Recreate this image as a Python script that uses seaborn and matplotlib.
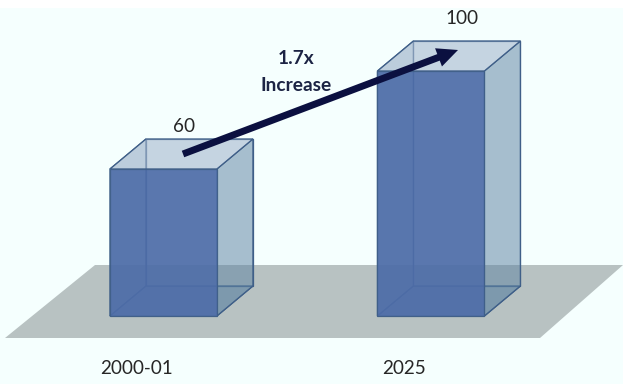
import matplotlib
matplotlib.use("Agg")
import matplotlib.pyplot as plt
from matplotlib.colors import to_rgba
from matplotlib.patches import Polygon, Rectangle
from matplotlib.transforms import Affine2D, IdentityTransform
import pandas as pd
import seaborn as sns

periods = ["2000-01", "2025"]
values = [60, 100]
growth_label = "1.7x\nIncrease"

BACKGROUND = "#f5fffe"
FLOOR = "#b8c2c2"
FRONT = "#4e6da8"
SIDE = "#5f84a3"
TOP = "#a8bad0"
EDGE = "#3f5f88"
NAVY = "#0b1040"
TEXT = "#262626"

sns.set_theme(style="white")
plt.rcParams["font.family"] = ["Lato", "DejaVu Sans"]

W, H = 623, 384
fig = plt.figure(figsize=(W / 100, H / 100), dpi=100, facecolor="white")
ax = fig.add_axes([0, 0, 1, 1])

# Canvas coordinates in pixels from the top left, for the scenery around the bars
canvas = Affine2D().scale(1 / W, -1 / H).translate(0, 1) + ax.transAxes

ax.add_patch(Rectangle((0, 8), W, H - 8, transform=canvas, fc=BACKGROUND, ec="none", zorder=0))
ax.add_patch(Polygon([(95, 265), (623, 265), (540, 338), (5, 338)], transform=canvas,
                     fc=FLOOR, ec="none", zorder=1))

frame = pd.DataFrame({"period": periods, "value": values})
sns.barplot(data=frame, x="period", y="value", ax=ax, width=0.4, color=FRONT, saturation=1,
            alpha=0.93, edgecolor=EDGE, linewidth=0.9, zorder=5)

ax.set_xlim(-0.611, 1.718)
ax.set_ylim(-27.76, 128.98)
ax.axis("off")

# Extrude each bar into a box with a fixed screen shift up and to the right
DEPTH_X, DEPTH_Y = 36, 30


def back(p):
    return (p[0] + DEPTH_X, p[1] + DEPTH_Y)


for bar, value in zip(ax.containers[0], values):
    x0, x1 = bar.get_x(), bar.get_x() + bar.get_width()
    a = ax.transData.transform((x0, 0))
    b = ax.transData.transform((x1, value))
    fl, fr = (a[0], a[1]), (b[0], a[1])
    tl, tr = (a[0], b[1]), (b[0], b[1])
    faces = [
        ([back(fl), back(fr), back(tr), back(tl)], SIDE, 0.0, 2),
        ([fl, back(fl), back(fr), fr], SIDE, 0.28, 2),
        ([fl, back(fl), back(tl), tl], SIDE, 0.15, 2),
        ([fr, back(fr), back(tr), tr], SIDE, 0.52, 3),
        ([tl, tr, back(tr), back(tl)], TOP, 0.62, 3),
    ]
    for points, face, alpha, order in faces:
        ax.add_patch(Polygon(points, transform=IdentityTransform(), fc=to_rgba(face, alpha),
                             ec=EDGE, lw=0.9, zorder=order))

ax.annotate("", xy=(458, 50), xytext=(183, 154), xycoords=canvas, textcoords=canvas,
            arrowprops=dict(width=5, headwidth=14, headlength=15, color=NAVY, shrink=0, lw=0),
            zorder=7)

ax.text(296, 72, growth_label, transform=canvas, ha="center", va="center", fontsize=13.8,
        fontweight="bold", color="#1c2444", linespacing=1.75, zorder=8)

for i, period in enumerate(periods):
    ax.text(i - 0.1, -21.3, period, ha="center", va="center", fontsize=13.6, color=TEXT, zorder=8)
ax.text(184, 127, str(values[0]), transform=canvas, ha="center", va="center", fontsize=13.6,
        color=TEXT, zorder=8)
ax.text(462, 18, str(values[1]), transform=canvas, ha="center", va="center", fontsize=13.6,
        color=TEXT, zorder=8)

fig.savefig("out.png", dpi=100, facecolor="white")
